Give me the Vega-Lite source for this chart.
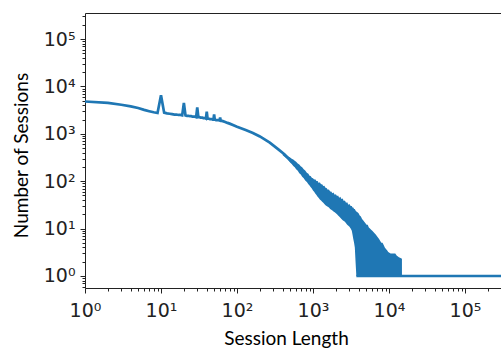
{
  "$schema": "https://vega.github.io/schema/vega-lite/v6.json",
  "width": 416,
  "height": 275,
  "autosize": "none",
  "padding": {"left": 85, "top": 13, "right": 0, "bottom": 60},
  "config": {
    "view": {"stroke": null},
    "axis": {
      "grid": false,
      "domainColor": "#222",
      "domainWidth": 1,
      "tickColor": "#222",
      "tickWidth": 1,
      "labelColor": "#222",
      "labelFont": "DejaVu Sans",
      "labelFontSize": 19,
      "titleFont": "Lato",
      "titleFontSize": 19,
      "titleFontWeight": "normal",
      "titleColor": "#000"
    }
  },
  "datasets": {
    "main": [
      {"length": 1, "count": 4800}, {"length": 2, "count": 4500}, {"length": 3, "count": 4100},
      {"length": 4, "count": 3800}, {"length": 5, "count": 3500}, {"length": 6, "count": 3200},
      {"length": 7, "count": 3000}, {"length": 8, "count": 2850}, {"length": 9, "count": 2750},
      {"length": 10, "count": 6500}, {"length": 11, "count": 2800}, {"length": 12, "count": 2700},
      {"length": 13, "count": 2650}, {"length": 14, "count": 2600}, {"length": 15, "count": 2550},
      {"length": 16, "count": 2550}, {"length": 17, "count": 2500}, {"length": 18, "count": 2500},
      {"length": 19, "count": 2450}, {"length": 20, "count": 4500}, {"length": 21, "count": 2450},
      {"length": 22, "count": 2400}, {"length": 23, "count": 2400}, {"length": 24, "count": 2350},
      {"length": 25, "count": 2350}, {"length": 26, "count": 2300}, {"length": 27, "count": 2300},
      {"length": 28, "count": 2300}, {"length": 29, "count": 2250}, {"length": 30, "count": 3600},
      {"length": 31, "count": 2250}, {"length": 32, "count": 2250}, {"length": 33, "count": 2200},
      {"length": 34, "count": 2200}, {"length": 35, "count": 2200}, {"length": 36, "count": 2150},
      {"length": 37, "count": 2150}, {"length": 38, "count": 2150}, {"length": 39, "count": 2100},
      {"length": 40, "count": 2950}, {"length": 41, "count": 2100}, {"length": 42, "count": 2100},
      {"length": 44, "count": 2050}, {"length": 46, "count": 2050}, {"length": 48, "count": 2000},
      {"length": 49, "count": 2000}, {"length": 50, "count": 2550}, {"length": 51, "count": 2000},
      {"length": 53, "count": 1950}, {"length": 56, "count": 1950}, {"length": 59, "count": 1900},
      {"length": 60, "count": 2200}, {"length": 61, "count": 1900}, {"length": 65, "count": 1850},
      {"length": 70, "count": 1780}, {"length": 75, "count": 1700}, {"length": 80, "count": 1640},
      {"length": 90, "count": 1520}, {"length": 100, "count": 1410}, {"length": 130, "count": 1200},
      {"length": 162, "count": 1040}, {"length": 200, "count": 880}, {"length": 270, "count": 650},
      {"length": 350, "count": 470}, {"length": 420, "count": 370}, {"length": 500, "count": 280},
      {"length": 600, "count": 212}, {"length": 700, "count": 170}
    ],
    "band": [
      {"length": 400, "count": 400, "low": 355}, {"length": 460, "count": 335, "low": 290},
      {"length": 500, "count": 318, "low": 248}, {"length": 525, "count": 296, "low": 232},
      {"length": 550, "count": 286, "low": 210}, {"length": 575, "count": 270, "low": 196},
      {"length": 600, "count": 257, "low": 178}, {"length": 630, "count": 236, "low": 166},
      {"length": 660, "count": 226, "low": 148}, {"length": 690, "count": 206, "low": 138},
      {"length": 720, "count": 196, "low": 124}, {"length": 755, "count": 178, "low": 116},
      {"length": 790, "count": 168, "low": 103}, {"length": 830, "count": 150, "low": 96},
      {"length": 870, "count": 143, "low": 86}, {"length": 900, "count": 131, "low": 81},
      {"length": 930, "count": 128, "low": 75}, {"length": 965, "count": 118, "low": 70},
      {"length": 1000, "count": 116, "low": 64}, {"length": 1035, "count": 108, "low": 60},
      {"length": 1070, "count": 110, "low": 55}, {"length": 1110, "count": 101, "low": 51},
      {"length": 1150, "count": 101, "low": 47}, {"length": 1190, "count": 92, "low": 44},
      {"length": 1230, "count": 95, "low": 41}, {"length": 1275, "count": 86, "low": 39},
      {"length": 1320, "count": 86, "low": 37}, {"length": 1365, "count": 79, "low": 35},
      {"length": 1410, "count": 80, "low": 33}, {"length": 1460, "count": 73, "low": 31},
      {"length": 1510, "count": 72, "low": 30}, {"length": 1565, "count": 66, "low": 29},
      {"length": 1620, "count": 67, "low": 28}, {"length": 1680, "count": 61, "low": 26},
      {"length": 1740, "count": 61, "low": 25}, {"length": 1800, "count": 56, "low": 24},
      {"length": 1860, "count": 58, "low": 23}, {"length": 1930, "count": 52, "low": 22},
      {"length": 2000, "count": 53, "low": 21}, {"length": 2070, "count": 49, "low": 20},
      {"length": 2140, "count": 50, "low": 19}, {"length": 2210, "count": 45, "low": 18},
      {"length": 2290, "count": 47, "low": 17}, {"length": 2370, "count": 42, "low": 16},
      {"length": 2460, "count": 43, "low": 15}, {"length": 2540, "count": 38, "low": 14.5},
      {"length": 2630, "count": 39, "low": 14}, {"length": 2720, "count": 35, "low": 13},
      {"length": 2820, "count": 36, "low": 12}, {"length": 2920, "count": 32, "low": 11.5},
      {"length": 3020, "count": 33, "low": 11}, {"length": 3130, "count": 30, "low": 10},
      {"length": 3240, "count": 30, "low": 9}, {"length": 3310, "count": 28, "low": 7.5},
      {"length": 3390, "count": 28, "low": 6}, {"length": 3470, "count": 26, "low": 5},
      {"length": 3550, "count": 26, "low": 4}, {"length": 3630, "count": 24, "low": 2},
      {"length": 3720, "count": 23, "low": 1}, {"length": 3850, "count": 22, "low": 1},
      {"length": 3980, "count": 21, "low": 1}, {"length": 4120, "count": 19, "low": 1},
      {"length": 4270, "count": 18, "low": 1}, {"length": 4420, "count": 16, "low": 1},
      {"length": 4570, "count": 15, "low": 1}, {"length": 4730, "count": 14, "low": 1},
      {"length": 4900, "count": 13, "low": 1}, {"length": 5070, "count": 12, "low": 1},
      {"length": 5250, "count": 12, "low": 1}, {"length": 5430, "count": 10.5, "low": 1},
      {"length": 5620, "count": 10, "low": 1}, {"length": 5820, "count": 9.5, "low": 1},
      {"length": 6030, "count": 9, "low": 1}, {"length": 6240, "count": 8.5, "low": 1},
      {"length": 6460, "count": 8, "low": 1}, {"length": 6690, "count": 7.5, "low": 1},
      {"length": 6920, "count": 7, "low": 1}, {"length": 7160, "count": 6.5, "low": 1},
      {"length": 7410, "count": 6, "low": 1}, {"length": 7670, "count": 5.5, "low": 1},
      {"length": 7940, "count": 5, "low": 1}, {"length": 8220, "count": 5, "low": 1},
      {"length": 8510, "count": 4.5, "low": 1}, {"length": 8810, "count": 4, "low": 1},
      {"length": 9120, "count": 3.7, "low": 1}, {"length": 9440, "count": 3.5, "low": 1},
      {"length": 9770, "count": 3.2, "low": 1}, {"length": 10500, "count": 3, "low": 1},
      {"length": 11500, "count": 3, "low": 1}, {"length": 12100, "count": 3, "low": 1},
      {"length": 12600, "count": 2.7, "low": 1}, {"length": 13500, "count": 2.5, "low": 1},
      {"length": 14200, "count": 2.4, "low": 1}, {"length": 14800, "count": 2.3, "low": 1},
      {"length": 14810, "count": 1, "low": 1}
    ],
    "tail": [
      {"length": 3720, "count": 1}, {"length": 400000, "count": 1}
    ]
  },
  "encoding": {
    "y": {
      "field": "count",
      "type": "quantitative",
      "title": "Number of Sessions",
      "scale": {"type": "log", "domain": [0.558, 354000], "nice": false, "zero": false},
      "axis": {
        "values": [0.6, 0.7, 0.8, 0.9, 1, 2, 3, 4, 5, 6, 7, 8, 9, 10, 20, 30, 40, 50, 60, 70, 80, 90, 100, 200, 300, 400, 500, 600, 700, 800, 900, 1000, 2000, 3000, 4000, 5000, 6000, 7000, 8000, 9000, 10000, 20000, 30000, 40000, 50000, 60000, 70000, 80000, 90000, 100000, 200000, 300000],
        "labelExpr": "abs(log(datum.value)/LN10 - round(log(datum.value)/LN10)) < 0.01 ? '10' + ['⁰','¹','²','³','⁴','⁵'][round(log(datum.value)/LN10)] : ''",
        "tickSize": {"condition": {"test": "abs(log(datum.value)/LN10 - round(log(datum.value)/LN10)) < 0.01", "value": 5}, "value": 3},
        "labelPadding": 5,
        "labelOverlap": false,
        "labelFlush": false,
        "titlePadding": 12,
        "titleY": 142
      }
    }
  },
  "layer": [
    {
      "data": {"name": "band"},
      "mark": {"type": "area", "color": "#1f77b4", "clip": true, "opacity": 1},
      "encoding": {
        "x": {
          "field": "length",
          "type": "quantitative",
          "title": "Session Length",
          "scale": {"type": "log", "domain": [1, 297700], "nice": false, "zero": false},
          "axis": {
            "values": [1, 2, 3, 4, 5, 6, 7, 8, 9, 10, 20, 30, 40, 50, 60, 70, 80, 90, 100, 200, 300, 400, 500, 600, 700, 800, 900, 1000, 2000, 3000, 4000, 5000, 6000, 7000, 8000, 9000, 10000, 20000, 30000, 40000, 50000, 60000, 70000, 80000, 90000, 100000, 200000],
            "labelExpr": "abs(log(datum.value)/LN10 - round(log(datum.value)/LN10)) < 0.01 ? '10' + ['⁰','¹','²','³','⁴','⁵'][round(log(datum.value)/LN10)] : ''",
            "tickSize": {"condition": {"test": "abs(log(datum.value)/LN10 - round(log(datum.value)/LN10)) < 0.01", "value": 5}, "value": 3},
            "labelPadding": 8,
            "labelOverlap": false,
            "labelFlush": false,
            "titlePadding": 9,
            "titleX": 201
          }
        },
        "y2": {"field": "low"}
      }
    },
    {
      "data": {"name": "main"},
      "mark": {"type": "line", "color": "#1f77b4", "strokeWidth": 2.7, "clip": true},
      "encoding": {
        "x": {"field": "length", "type": "quantitative", "scale": {"type": "log", "domain": [1, 297700], "nice": false, "zero": false}, "axis": null}
      }
    },
    {
      "data": {"name": "tail"},
      "mark": {"type": "line", "color": "#1f77b4", "strokeWidth": 2.7, "clip": true},
      "encoding": {
        "x": {"field": "length", "type": "quantitative", "scale": {"type": "log", "domain": [1, 297700], "nice": false, "zero": false},
          "axis": {"orient": "top", "labels": false, "ticks": false, "title": null, "domain": true}}
      }
    }
  ],
  "resolve": {"axis": {"x": "independent"}}
}
